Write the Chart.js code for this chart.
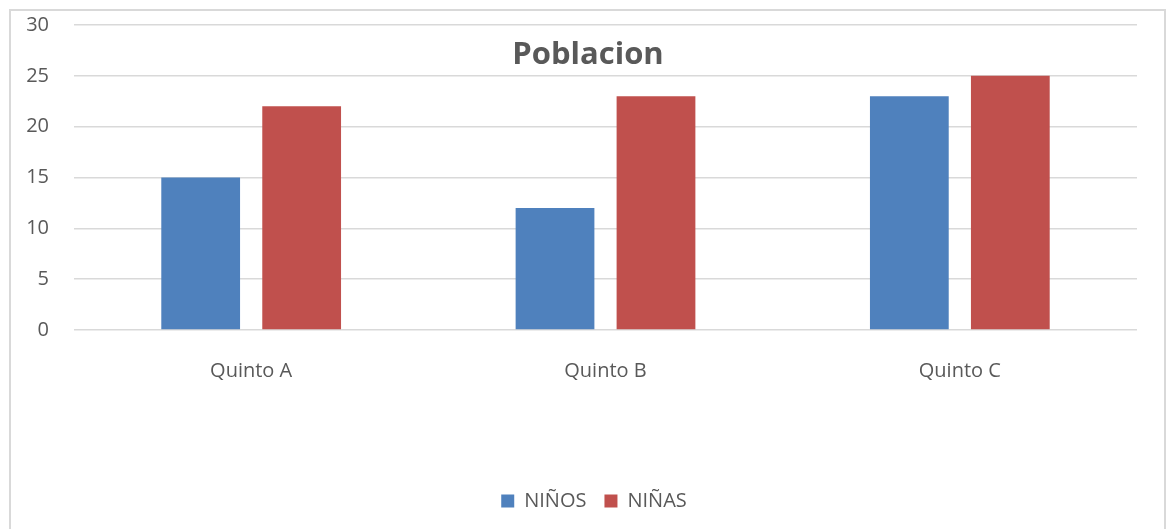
<!DOCTYPE html>
<html>
<head>
<meta charset="utf-8">
<script src="https://cdn.jsdelivr.net/npm/chart.js@4/dist/chart.umd.min.js"></script>
<style>
    html, body { margin: 0; padding: 0; background: #fff; overflow: hidden; }
    #frame {
        position: absolute; left: 9px; top: 9px;
        width: 1153px; height: 540px;
        border: 2px solid #d9d9d9;
    }
    #wrap { position: absolute; left: 0; top: 0; width: 1153px; height: 518px; }
</style>
</head>
<body>
<div id="frame">
    <div id="wrap"><canvas id="chart"></canvas></div>
</div>
<script>
    const categories = ['Quinto A', 'Quinto B', 'Quinto C'];
    const ninos = [15, 12, 23];
    const ninas = [22, 23, 25];
    const chartTitle = 'Poblacion';

    const FONT = '"Open Sans", "Liberation Sans", sans-serif';
    const TEXT_COLOR = '#595959';

    // titulo dibujado encima del area de datos, como en Excel
    const titleOverlay = {
        id: 'titleOverlay',
        afterLayout(chart) {
            // la leyenda va un poco a la derecha del centro
            chart.legend.left += 20;
            chart.legend.right += 20;
        },
        afterDraw(chart) {
            const ctx = chart.ctx;
            ctx.save();
            ctx.font = 'bold 31px ' + FONT;
            ctx.fillStyle = TEXT_COLOR;
            ctx.textAlign = 'center';
            ctx.textBaseline = 'middle';
            ctx.fillText(chartTitle, 577, 44);
            ctx.restore();
        }
    };

    const ctx = document.getElementById('chart').getContext('2d');
    new Chart(ctx, {
        type: 'bar',
        data: {
            labels: categories,
            datasets: [
                {
                    label: 'NIÑOS',
                    data: ninos,
                    backgroundColor: '#4f81bd',
                    categoryPercentage: 0.57,
                    barPercentage: 0.78
                },
                {
                    label: 'NIÑAS',
                    data: ninas,
                    backgroundColor: '#c0504d',
                    categoryPercentage: 0.57,
                    barPercentage: 0.78
                }
            ]
        },
        options: {
            responsive: true,
            maintainAspectRatio: false,
            animation: false,
            layout: { padding: { left: 0, right: 27, top: 14, bottom: 8 } },
            plugins: {
                title: { display: false },
                tooltip: { enabled: false },
                legend: {
                    position: 'bottom',
                    labels: {
                        boxWidth: 13,
                        boxHeight: 13,
                        padding: 18,
                        color: TEXT_COLOR,
                        font: { family: FONT, size: 20 }
                    }
                }
            },
            scales: {
                x: {
                    grid: { display: false },
                    border: { display: false },
                    ticks: {
                        color: TEXT_COLOR,
                        padding: 21,
                        font: { family: FONT, size: 20 }
                    },
                    afterFit: s => { s.height = 143; }
                },
                y: {
                    min: 0,
                    max: 30,
                    grid: { color: '#d9d9d9', lineWidth: 1.5, drawTicks: false },
                    border: { display: false },
                    ticks: {
                        stepSize: 5,
                        padding: 25,
                        color: TEXT_COLOR,
                        font: { family: FONT, size: 20 }
                    },
                    // el padding de ticks no debe empujar el area hacia abajo
                    afterFit: s => { s.width = 63; s.paddingTop = 0; s.paddingBottom = 0; }
                }
            }
        },
        plugins: [titleOverlay]
    });
</script>
</body>
</html>
